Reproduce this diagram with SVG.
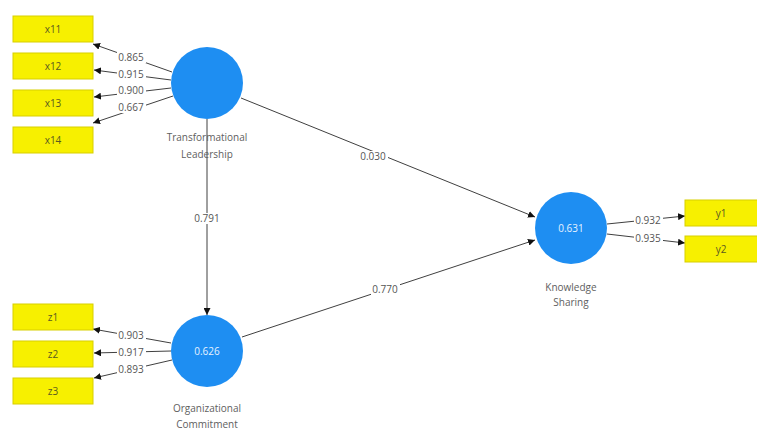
<svg xmlns="http://www.w3.org/2000/svg" width="757" height="436" viewBox="0 0 757 436">
<defs>
<style>
.box{fill:#f7f000;stroke:#d8cf00;stroke-width:1}
.bt{font-family:"Open Sans","Liberation Sans",sans-serif;font-size:10px;fill:#5a5a20;text-anchor:middle}
.lv{fill:#1e8ef2}
.lt{font-family:"Open Sans","Liberation Sans",sans-serif;font-size:10px;fill:#606060;text-anchor:middle}
.ct{font-family:"Open Sans","Liberation Sans",sans-serif;font-size:10px;fill:#e6f2ff;text-anchor:middle}
.ln{stroke:#404040;stroke-width:1;fill:none;marker-end:url(#ah)}
.el{font-family:"Open Sans","Liberation Sans",sans-serif;font-size:10px;fill:#555;text-anchor:middle}
.bg{fill:#ffffff}
</style>
<marker id="ah" viewBox="0 0 10 10" refX="10" refY="5" markerWidth="7" markerHeight="7" orient="auto" markerUnits="userSpaceOnUse">
<path d="M0,0 L10,5 L0,10 z" fill="#111"/>
</marker>
</defs>
<rect width="757" height="436" fill="#ffffff"/>
<g id="connectors">
<line class="ln" x1="172" y1="72" x2="93" y2="44"/>
<line class="ln" x1="171" y1="80" x2="94" y2="70"/>
<line class="ln" x1="171" y1="88" x2="94" y2="97"/>
<line class="ln" x1="173" y1="96" x2="93" y2="123"/>
<line class="ln" x1="171" y1="343" x2="93" y2="329"/>
<line class="ln" x1="171" y1="351" x2="94" y2="353"/>
<line class="ln" x1="172" y1="360" x2="94" y2="378"/>
<line class="ln" x1="607" y1="224" x2="685" y2="216"/>
<line class="ln" x1="607" y1="234" x2="685" y2="243"/>
<line class="ln" x1="207" y1="119" x2="207" y2="315"/>
<line class="ln" x1="241" y1="98" x2="535" y2="217"/>
<line class="ln" x1="242" y1="337" x2="535" y2="240"/>
<g>
<rect class="bg" x="117" y="52" width="29" height="11"/><text class="el" x="131" y="61">0.865</text>
<rect class="bg" x="117" y="69" width="29" height="11"/><text class="el" x="131" y="78">0.915</text>
<rect class="bg" x="117" y="85" width="29" height="11"/><text class="el" x="131" y="94">0.900</text>
<rect class="bg" x="117" y="102" width="29" height="11"/><text class="el" x="131" y="111">0.667</text>
<rect class="bg" x="117" y="330" width="29" height="11"/><text class="el" x="131" y="339">0.903</text>
<rect class="bg" x="117" y="347" width="29" height="11"/><text class="el" x="131" y="356">0.917</text>
<rect class="bg" x="117" y="364" width="29" height="11"/><text class="el" x="131" y="373">0.893</text>
<rect class="bg" x="634" y="215" width="29" height="11"/><text class="el" x="648" y="224">0.932</text>
<rect class="bg" x="634" y="233" width="29" height="11"/><text class="el" x="648" y="242">0.935</text>
<rect class="bg" x="193" y="213" width="29" height="11"/><text class="el" x="207" y="222">0.791</text>
<rect class="bg" x="359" y="151" width="29" height="11"/><text class="el" x="373" y="160">0.030</text>
<rect class="bg" x="371" y="284" width="29" height="11"/><text class="el" x="385" y="293">0.770</text>
</g>
</g>
<g id="x11"><rect class="box" x="13" y="16" width="80" height="26"/><text class="bt" x="53" y="33">x11</text></g>
<g id="x12"><rect class="box" x="13" y="53" width="80" height="26"/><text class="bt" x="53" y="70">x12</text></g>
<g id="x13"><rect class="box" x="13" y="90" width="80" height="26"/><text class="bt" x="53" y="107">x13</text></g>
<g id="x14"><rect class="box" x="13" y="127" width="80" height="26"/><text class="bt" x="53" y="144">x14</text></g>
<g id="z1"><rect class="box" x="13" y="304" width="80" height="26"/><text class="bt" x="53" y="321">z1</text></g>
<g id="z2"><rect class="box" x="13" y="341" width="80" height="26"/><text class="bt" x="53" y="358">z2</text></g>
<g id="z3"><rect class="box" x="13" y="378" width="80" height="26"/><text class="bt" x="53" y="395">z3</text></g>
<g id="y1"><rect class="box" x="685" y="200" width="80" height="26"/><text class="bt" x="721" y="217">y1</text></g>
<g id="y2"><rect class="box" x="685" y="236" width="80" height="26"/><text class="bt" x="721" y="253">y2</text></g>
<g id="TL"><circle class="lv" cx="207" cy="83" r="36"/>
<text class="lt" x="207" y="141">Transformational</text><text class="lt" x="207" y="158">Leadership</text></g>
<g id="OC"><circle class="lv" cx="207" cy="351" r="36"/><text class="ct" x="207" y="355">0.626</text>
<text class="lt" x="207" y="412">Organizational</text><text class="lt" x="207" y="428">Commitment</text></g>
<g id="KS"><circle class="lv" cx="571" cy="228" r="36"/><text class="ct" x="571" y="232">0.631</text>
<text class="lt" x="571" y="291">Knowledge</text><text class="lt" x="571" y="306">Sharing</text></g>
</svg>
